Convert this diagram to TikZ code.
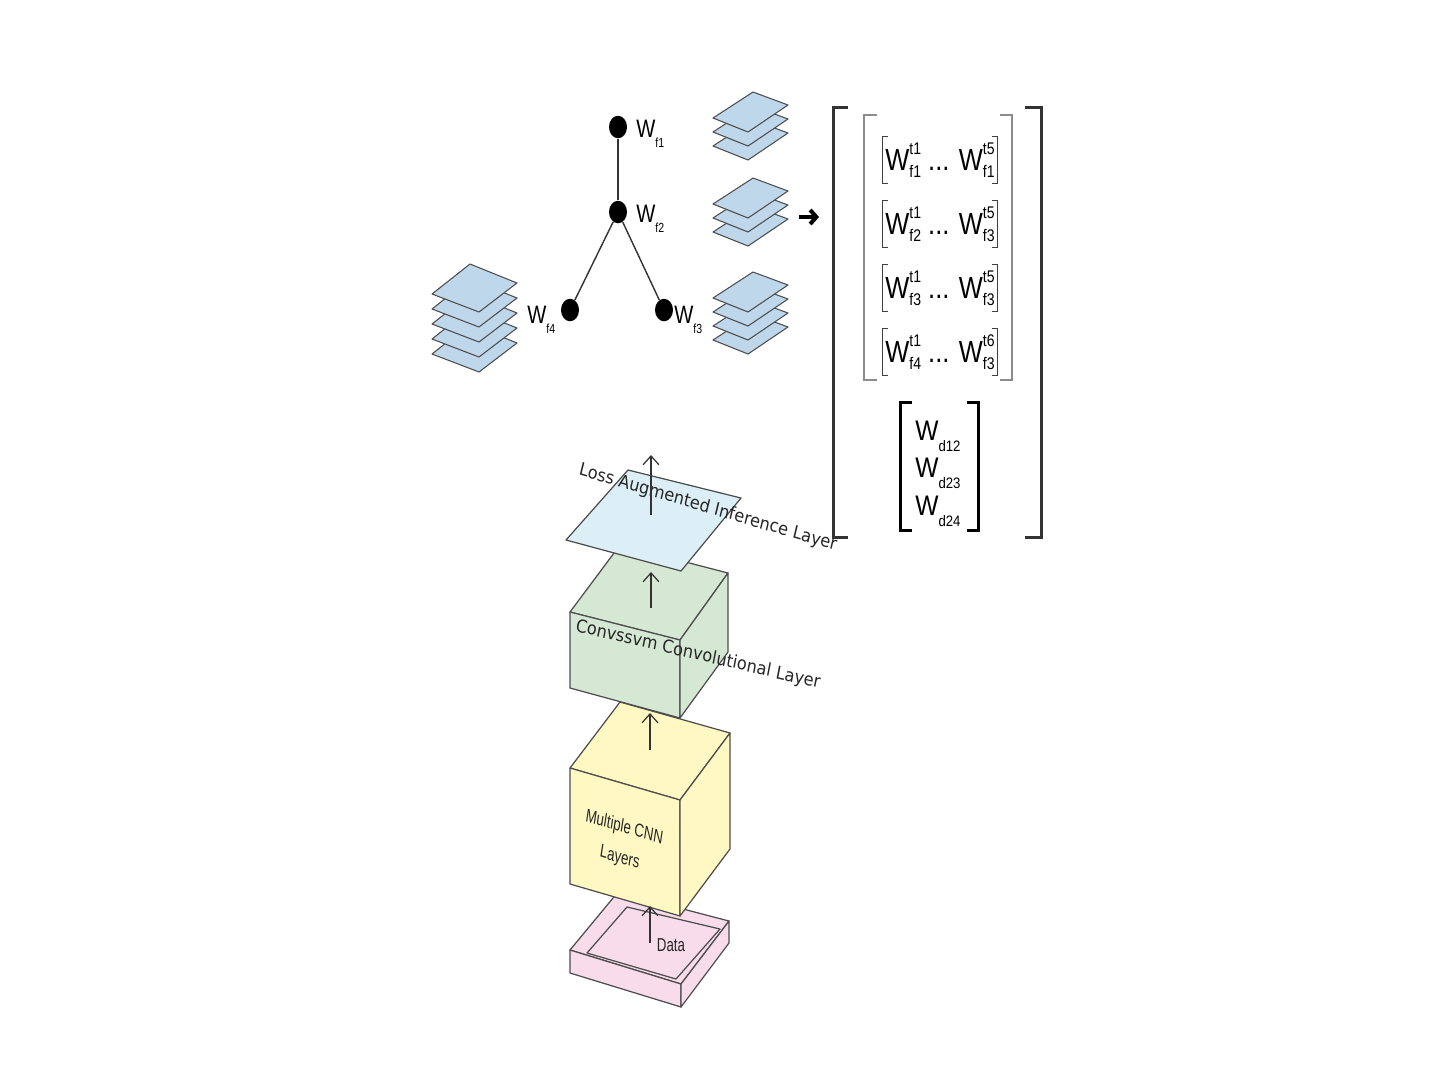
\documentclass[tikz,border=0pt]{standalone}
\usepackage{fontspec}
\setmainfont{Liberation Sans}
\newfontfamily\dejavu{DejaVu Sans}
\usetikzlibrary{arrows.meta,shapes.geometric}

\definecolor{sheetblue}{HTML}{BED7EB}
\definecolor{planeblue}{HTML}{DCEFF7}
\definecolor{cubegreen}{HTML}{D5E8D4}
\definecolor{cubeyellow}{HTML}{FFF8C2}
\definecolor{traypink}{HTML}{F8DCEA}
\definecolor{edgegray}{HTML}{4D4D4D}

% weight labels: W with a sub- (and super-) script
\newcommand{\wtree}[1]{W\raisebox{-5pt}{\fontsize{6}{6}\selectfont #1}}
\newcommand{\wrow}[2]{W\rlap{\raisebox{7.6pt}{\fontsize{8}{8}\selectfont #2}}\raisebox{-3.5pt}{\fontsize{8}{8}\selectfont #1}}
\newcommand{\wdv}[1]{W\raisebox{-5.5pt}{\fontsize{7.5}{7.5}\selectfont #1}}

\begin{document}
\begin{tikzpicture}[x=0.02cm, y=-0.02cm,
    wdot/.style={ellipse, fill=black, inner sep=0pt, minimum width=0.36cm, minimum height=0.45cm},
    treeline/.style={draw=black!80, line width=0.8pt},
    wlab/.style={font=\fontsize{11.5}{13}\selectfont, inner sep=0pt, anchor=base west, yscale=1.25, transform shape},
    wrowbox/.style={font=\fontsize{14.5}{16}\selectfont, inner xsep=1.4pt, inner ysep=2.5pt, yscale=1.2, transform shape},
    wdlab/.style={font=\fontsize{14}{16}\selectfont, inner sep=0pt, anchor=base west, yscale=1.15, transform shape},
    rbr/.style={draw=black!75, line width=0.6pt},
    bigbr/.style={draw=black!80, line width=1.7pt},
    graybr/.style={draw=black!45, line width=0.9pt},
    sheet/.style={fill=sheetblue, draw=edgegray, line width=0.6pt, line join=round},
    face/.style={draw=edgegray, line width=0.7pt, line join=round},
    uparrow/.style={draw=black!80, line width=0.7pt, -{Straight Barb[length=5pt, width=9pt]}},
    fatarrow/.style={line width=2.3pt, -{Straight Barb[length=3.5pt, width=8pt]}},
    layerlab/.style={font=\dejavu\fontsize{9.2}{11}\selectfont, text=black!85, inner sep=0pt, yscale=1.1, transform shape},
    boxlab/.style={font=\fontsize{7.6}{12.5}\selectfont, text=black!85, inner sep=0pt, yscale=1.4, transform shape}
]
\useasboundingbox (0,0) rectangle (1440,1080);
\fill[white] (0,0) rectangle (1440,1080);

% data tray
\draw[face, fill=traypink] (570,950) -- (681,984) -- (729,921) -- (618,892) -- cycle;
\draw[face] (587,953) -- (627,907) -- (720,929) -- (676,979) -- cycle;
\draw[face, fill=traypink] (570,950) -- (681,984) -- (681,1007) -- (570,973) -- cycle;
\draw[face, fill=traypink] (681,984) -- (729,921) -- (729,943) -- (681,1007) -- cycle;

% cnn cube
\draw[face, fill=cubeyellow] (570,768) -- (680,800) -- (730,733) -- (620,702) -- cycle;
\draw[face, fill=cubeyellow] (570,768) -- (680,800) -- (680,916) -- (570,884) -- cycle;
\draw[face, fill=cubeyellow] (680,800) -- (730,733) -- (730,849) -- (680,916) -- cycle;

% convssvm cube
\draw[face, fill=cubegreen] (570,612) -- (680,640) -- (728,573) -- (620,545) -- cycle;
\draw[face, fill=cubegreen] (570,612) -- (680,640) -- (680,718) -- (570,688) -- cycle;
\draw[face, fill=cubegreen] (680,640) -- (728,573) -- (728,652) -- (680,718) -- cycle;

% loss plane
\draw[face, fill=planeblue] (566,540) -- (628,470) -- (741,498) -- (681,571) -- cycle;

\node[boxlab] (datalab) at (671,945) {Data};
\node[boxlab, rotate=-12, align=center] (cnnlab) at (622,843) {Multiple CNN\\Layers};
\node[layerlab, rotate=-12] (convlab) at (698,655) {Convssvm Convolutional Layer};
\node[layerlab, rotate=-15] (losslab) at (708,508) {Loss Augmented Inference Layer};

\coordinate (datain) at (650,943); \coordinate (cnnbot) at (650,906);
\coordinate (cnntop) at (650,750); \coordinate (convbot) at (650,713);
\coordinate (convtop) at (651,608); \coordinate (lossbot) at (651,572);
\coordinate (losstop) at (651,515); \coordinate (lossout) at (651,455);
\draw[uparrow] (datain) -- (cnnbot); \draw[uparrow] (cnntop) -- (convbot);
\draw[uparrow] (convtop) -- (lossbot); \draw[uparrow] (losstop) -- (lossout);

% tree of filters
\node[wdot] (f1) at (618,127) {};
\node[wdot] (f2) at (618,212) {};
\node[wdot] (f4) at (570,310) {};
\node[wdot] (f3) at (664,310) {};
\draw[treeline] (f1) -- (f2); \draw[treeline] (f2) -- (f4); \draw[treeline] (f2) -- (f3);
\node[wlab] (lf1) at (636,137) {\wtree{f1}};
\node[wlab] (lf2) at (636,222) {\wtree{f2}};
\node[wlab] (lf4) at (527,323) {\wtree{f4}};
\node[wlab] (lf3) at (674,323) {\wtree{f3}};

% feature map stacks
\foreach \k in {2,1,0} \draw[sheet, shift={(713,92+14*\k)}] (0,26) -- (40,0) -- (75,13) -- (35,40) -- cycle;
\foreach \k in {2,1,0} \draw[sheet, shift={(713,178+14*\k)}] (0,26) -- (40,0) -- (75,13) -- (35,40) -- cycle;
\foreach \k in {3,2,1,0} \draw[sheet, shift={(713,272+14*\k)}] (0,26) -- (40,0) -- (75,13) -- (35,40) -- cycle;
\foreach \k in {4,3,2,1,0} \draw[sheet, shift={(432,264+15*\k)}] (0,30) -- (38,0) -- (85,19) -- (47,48) -- cycle;

\coordinate (stackout) at (799,217); \coordinate (matin) at (819,217);
\draw[fatarrow] (stackout) -- (matin);

% weight matrix
\draw[bigbr] (848,107) -- (833,107) -- (833,537) -- (848,537);
\draw[bigbr] (1025,107) -- (1041,107) -- (1041,537) -- (1025,537);
\draw[graybr] (877,115) -- (864,115) -- (864,380) -- (877,380);
\draw[graybr] (1000,115) -- (1012,115) -- (1012,380) -- (1000,380);

\node[wrowbox] (r1) at (940,160) {\wrow{f1}{t1} ... \wrow{f1}{t5}};
\node[wrowbox] (r2) at (940,224) {\wrow{f2}{t1} ... \wrow{f3}{t5}};
\node[wrowbox] (r3) at (940,288) {\wrow{f3}{t1} ... \wrow{f3}{t5}};
\node[wrowbox] (r4) at (940,352) {\wrow{f4}{t1} ... \wrow{f3}{t6}};
\foreach \r in {r1,r2,r3,r4} {
  \draw[rbr] (\r.north west) ++(5,0) -- (\r.north west) -- (\r.south west) -- ++(5,0);
  \draw[rbr] (\r.north east) ++(-5,0) -- (\r.north east) -- (\r.south east) -- ++(-5,0);
}

\node[wdlab] (d12) at (915,440) {\wdv{d12}};
\node[wdlab] (d23) at (915,477) {\wdv{d23}};
\node[wdlab] (d24) at (915,515) {\wdv{d24}};
\draw[bigbr, draw=black] (912,402) -- (900,402) -- (900,530) -- (912,530);
\draw[bigbr, draw=black] (967,402) -- (978,402) -- (978,530) -- (967,530);
\end{tikzpicture}
\end{document}
